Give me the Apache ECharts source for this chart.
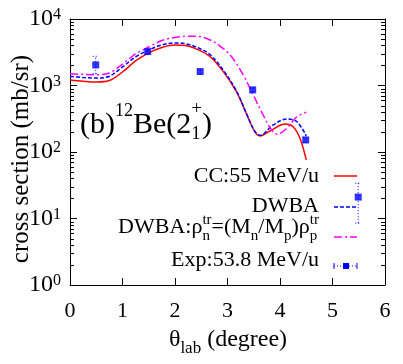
<!DOCTYPE html>
<html>
<head>
<meta charset="utf-8">
<script src="https://cdn.jsdelivr.net/npm/echarts@6/dist/echarts.min.js"></script>
<style>
  html, body { margin: 0; padding: 0; background: #fff; }
  #main { width: 403px; height: 364px; }
</style>
</head>
<body>
<div id="main"></div>
<script>
const FONT = '"Liberation Serif"'

// CC:55 MeV/u
const ccX = [0, 0.25, 0.5, 0.75, 1.0, 1.25, 1.5, 1.75, 2.0, 2.2, 2.44, 2.67, 2.92, 3.17, 3.37, 3.52, 3.62, 3.81, 4.1, 4.25, 4.38, 4.5]
const ccY = [1211, 1160, 1130, 1190, 1595, 2340, 3090, 3720, 4050, 4000, 3450, 2710, 1615, 807, 360, 202, 174, 207, 263, 240, 161, 76]
// DWBA
const dwX = [0, 0.25, 0.5, 0.75, 1.0, 1.25, 1.5, 1.75, 2.0, 2.2, 2.44, 2.67, 2.92, 3.17, 3.37, 3.52, 3.62, 3.87, 4.13, 4.32, 4.5]
const dwY = [1375, 1320, 1297, 1380, 1900, 2690, 3420, 4065, 4360, 4250, 3700, 2900, 1700, 830, 365, 205, 178, 255, 313, 286, 175]
// DWBA with rho_n = (Mn/Mp) rho_p
const dmX = [0, 0.25, 0.5, 0.75, 1.0, 1.25, 1.5, 1.75, 2.0, 2.25, 2.45, 2.67, 2.85, 3.05, 3.3, 3.49, 3.68, 3.84, 3.95, 4.13, 4.32, 4.5]
const dmY = [1503, 1470, 1452, 1540, 2100, 2980, 3790, 4750, 5270, 5500, 5450, 4830, 3950, 2880, 1440, 720, 360, 214, 185, 227, 339, 395]
// Exp:53.8 MeV/u
const expX = [0.49, 1.48, 2.48, 3.48, 4.49, 5.49]
const expY = [2040, 3240, 1620, 860, 152, 21]
const expLo = [1500, 2950, 1500, 800, 138, 8.5]
const expHi = [2750, 3550, 1750, 930, 166, 34]

const xTicks = [0, 1, 2, 3, 4, 5, 6]
const decades = [1, 10, 100, 1000]
const minorMult = [2, 3, 4, 5, 6, 7, 8, 9]

const pairs = (xs, ys) => xs.map((x, i) => [x, ys[i]])

// lays out text pieces (with sub/superscripts) one after another
const ctx = document.createElement('canvas').getContext('2d')
function textRun(parts, x, base, align) {
  const els = []
  let cx = 0
  for (const p of parts) {
    const [t, s, dy] = p
    const texts = Array.isArray(t) ? t : [t]
    const dys = Array.isArray(t) ? dy : [dy || 0]
    ctx.font = s + 'px ' + FONT
    let w = 0
    texts.forEach((tt, i) => {
      w = Math.max(w, ctx.measureText(tt).width)
      els.push({
        type: 'text', x: cx, y: base + dys[i] - 0.34 * s, silent: true,
        style: { text: tt, font: s + 'px ' + FONT, fill: '#000', align: 'left', verticalAlign: 'middle' }
      })
    })
    cx += w
  }
  const off = align === 'right' ? x - cx : align === 'center' ? x - cx / 2 : x
  els.forEach(e => { e.x += off })
  return els
}

const chart = echarts.init(document.getElementById('main'))

const tickStyle = { show: true, inside: true, length: 7, lineStyle: { color: '#000', width: 1 } }
const lineAx = { show: true, onZero: false, lineStyle: { color: '#000', width: 1 } }

const graphics = [
  // title
  ...textRun([['(b)', 30], ['12', 18, -18], ['Be(2', 30], [['+', '1'], 19, [-20, 5]], [')', 30]], 80, 135, 'left'),
  // x axis name
  ...textRun([['θ', 24], ['lab', 17, 6], [' (degree)', 24]], 228, 348, 'center'),
  // y axis name
  {
    type: 'text', x: 21, y: 159, rotation: Math.PI / 2, silent: true,
    style: { text: 'cross section (mb/sr)', font: '25px ' + FONT, fill: '#000', align: 'center', verticalAlign: 'middle' }
  },
  // legend
  ...textRun([['CC:55 MeV/u', 22]], 319, 184, 'right'),
  ...textRun([['DWBA', 22]], 319, 214, 'right'),
  ...textRun([['DWBA:ρ', 22], [['tr', 'n'], 15, [-10, 6]], ['=(M', 22], ['n', 15, 6], ['/M', 22], ['p', 15, 6], [')ρ', 22], [['tr', 'p'], 15, [-10, 6]]], 319, 235, 'right'),
  ...textRun([['Exp:53.8 MeV/u', 22]], 319, 268, 'right'),
  { type: 'line', silent: true, shape: { x1: 334, y1: 176, x2: 357, y2: 176 }, style: { stroke: '#ff0000', lineWidth: 1.5 } },
  { type: 'line', silent: true, shape: { x1: 334, y1: 207, x2: 357, y2: 207 }, style: { stroke: '#0000ff', lineWidth: 1.5, lineDash: [4, 2] } },
  { type: 'line', silent: true, shape: { x1: 334, y1: 237, x2: 357, y2: 237 }, style: { stroke: '#ff00ff', lineWidth: 1.5, lineDash: [8, 3, 2, 3] } },
  { type: 'line', silent: true, shape: { x1: 334, y1: 266, x2: 357, y2: 266 }, style: { stroke: '#0000ff', lineWidth: 1, lineDash: [1, 2] } },
  { type: 'line', silent: true, shape: { x1: 334, y1: 263, x2: 334, y2: 269 }, style: { stroke: '#0000ff', lineWidth: 1 } },
  { type: 'line', silent: true, shape: { x1: 357, y1: 263, x2: 357, y2: 269 }, style: { stroke: '#0000ff', lineWidth: 1 } },
  { type: 'rect', silent: true, shape: { x: 343, y: 263, width: 6, height: 6 }, style: { fill: '#0000ff' } }
]

const option = {
  animation: false,
  backgroundColor: '#fff',
  grid: { left: 70, right: 18, top: 19, bottom: 79 },
  xAxis: [
    {
      type: 'value', min: 0, max: 6, interval: 1, position: 'bottom',
      axisLine: lineAx, axisTick: tickStyle, splitLine: { show: false },
      axisLabel: {
        fontSize: 22, fontFamily: FONT, color: '#000', margin: 15,
        formatter: v => xTicks.includes(v) ? String(v) : ''
      }
    },
    {
      type: 'value', min: 0, max: 6, interval: 1, position: 'top',
      axisLine: lineAx, axisTick: tickStyle, splitLine: { show: false }, axisLabel: { show: false }
    }
  ],
  yAxis: [
    {
      type: 'log', logBase: 10, min: 1, max: 10000, position: 'left',
      axisLine: lineAx, axisTick: tickStyle, splitLine: { show: false },
      axisLabel: {
        margin: 9, padding: [2, 0, 0, 0],
        formatter: v => '{b|10}{s|' + Math.round(Math.log10(v)) + '}',
        rich: {
          b: { fontSize: 24, fontFamily: FONT, color: '#000', lineHeight: 26, verticalAlign: 'top' },
          s: { fontSize: 16, fontFamily: FONT, color: '#000', lineHeight: 14, verticalAlign: 'top' }
        }
      }
    },
    {
      type: 'log', logBase: 10, min: 1, max: 10000, position: 'right',
      axisLine: lineAx, axisTick: tickStyle, splitLine: { show: false },
      axisLabel: { show: false }
    }
  ],
  graphic: graphics,
  series: [
    {
      name: 'CC:55 MeV/u', type: 'line', data: pairs(ccX, ccY), smooth: 0.35, symbol: 'none',
      lineStyle: { color: '#ff0000', width: 1.5 }
    },
    {
      name: 'DWBA', type: 'line', data: pairs(dwX, dwY), smooth: 0.35, symbol: 'none',
      lineStyle: { color: '#0000ff', width: 1.5, type: [4, 2] }
    },
    {
      name: 'DWBA rho', type: 'line', data: pairs(dmX, dmY), smooth: 0.35, symbol: 'none',
      lineStyle: { color: '#ff00ff', width: 1.5, type: [8, 3, 2, 3] }
    },
    {
      name: 'Exp err', type: 'custom',
      data: expX.map((x, i) => [x, expLo[i], expHi[i]]),
      renderItem: (params, api) => {
        const lo = api.coord([api.value(0), api.value(1)])
        const hi = api.coord([api.value(0), api.value(2)])
        const st = { stroke: '#0000ff', lineWidth: 1, lineDash: [1, 2] }
        return {
          type: 'group',
          children: [
            { type: 'line', shape: { x1: lo[0], y1: lo[1], x2: hi[0], y2: hi[1] }, style: st },
            { type: 'line', shape: { x1: lo[0] - 3, y1: lo[1], x2: lo[0] + 3, y2: lo[1] }, style: st },
            { type: 'line', shape: { x1: hi[0] - 3, y1: hi[1], x2: hi[0] + 3, y2: hi[1] }, style: st }
          ]
        }
      },
      z: 3
    },
    {
      name: 'Exp:53.8 MeV/u', type: 'scatter', data: pairs(expX, expY), symbol: 'rect', symbolSize: 7,
      itemStyle: { color: '#0000ff' }, z: 4
    }
  ]
}

chart.setOption(option)

// minor log ticks on both vertical borders, placed through the y axis scale
const xl = chart.convertToPixel({ xAxisIndex: 0 }, 0)
const xr = chart.convertToPixel({ xAxisIndex: 0 }, 6)
const minor = []
decades.forEach(d => minorMult.forEach(m => {
  const y = Math.round(chart.convertToPixel({ yAxisIndex: 0 }, m * d)) + 0.5
  minor.push({ type: 'line', silent: true, shape: { x1: xl, y1: y, x2: xl + 4, y2: y }, style: { stroke: '#000', lineWidth: 1 } })
  minor.push({ type: 'line', silent: true, shape: { x1: xr, y1: y, x2: xr - 4, y2: y }, style: { stroke: '#000', lineWidth: 1 } })
}))
chart.setOption({ graphic: graphics.concat(minor) })
</script>
</body>
</html>
